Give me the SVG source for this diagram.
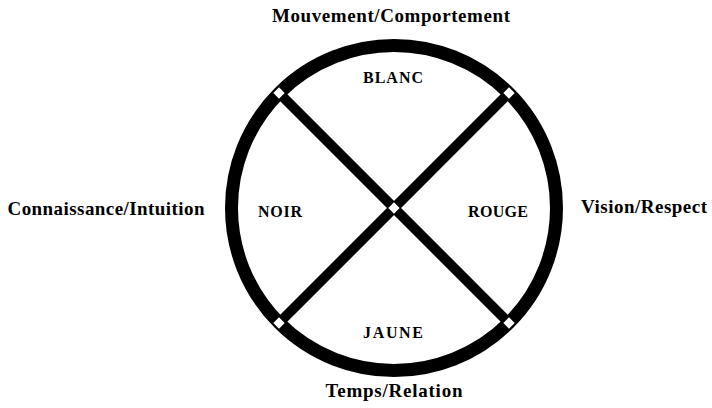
<svg xmlns="http://www.w3.org/2000/svg" width="712" height="408" viewBox="0 0 712 408">
<style>
  .ring { fill: none; stroke: #000; stroke-width: 13; }
  .bar { stroke: #000; stroke-width: 10; stroke-linecap: butt; }
  .joint { fill: #fff; stroke: none; }
  .outer { font-family: "Liberation Serif", "DejaVu Serif", serif; font-weight: bold; font-size: 19px; fill: #000; text-anchor: middle; }
  .inner { font-family: "Liberation Serif", "DejaVu Serif", serif; font-weight: bold; font-size: 16px; fill: #000; text-anchor: middle; }
</style>
<defs>
  <rect id="diamond" x="-4" y="-4" width="8" height="8" transform="rotate(45)"/>
</defs>
<rect width="712" height="408" fill="#fff"/>
<g id="wheel">
  <circle class="ring" cx="394" cy="208" r="162.5"/>
</g>
<g id="connectors">
  <line class="bar" x1="279" y1="93" x2="509" y2="323"/>
  <line class="bar" x1="509" y1="93" x2="279" y2="323"/>
</g>
<g id="joints" class="joint">
  <use href="#diamond" x="279" y="93"/>
  <use href="#diamond" x="509" y="93"/>
  <use href="#diamond" x="279" y="323"/>
  <use href="#diamond" x="509" y="323"/>
  <use href="#diamond" x="394" y="208"/>
</g>
<g id="blanc"><text class="inner" x="393" y="83" textLength="60">BLANC</text></g>
<g id="noir"><text class="inner" x="280" y="217" textLength="44">NOIR</text></g>
<g id="rouge"><text class="inner" x="498" y="217" textLength="60">ROUGE</text></g>
<g id="jaune"><text class="inner" x="393" y="338" textLength="60">JAUNE</text></g>
<g id="mouvement"><text class="outer" x="391" y="22" textLength="238">Mouvement/Comportement</text></g>
<g id="connaissance"><text class="outer" x="106" y="215" textLength="197">Connaissance/Intuition</text></g>
<g id="vision"><text class="outer" x="644" y="213" textLength="126">Vision/Respect</text></g>
<g id="temps"><text class="outer" x="394" y="397" textLength="137">Temps/Relation</text></g>
</svg>
